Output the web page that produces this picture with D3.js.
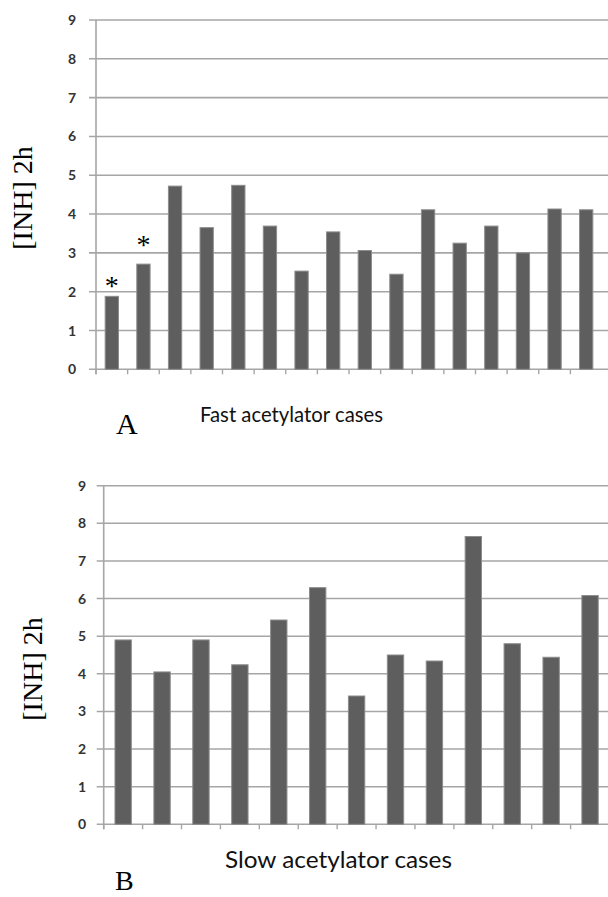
<!DOCTYPE html>
<html>
<head>
<meta charset="utf-8">
<script src="https://cdn.jsdelivr.net/npm/d3@7"></script>
<style>
  html, body { margin: 0; padding: 0; background: #fff; }
  svg { display: block; }
</style>
</head>
<body>
<script>
// ---------- data ----------
const fastCases = d3.range(1, 17).map(String);
const fastValues = [1.88, 2.71, 4.72, 3.65, 4.74, 3.69, 2.53, 3.54, 3.06, 2.45, 4.11, 3.25, 3.69, 3.0, 4.13, 4.11];
const fastMarks = [{ cat: "1", y: 2.25 }, { cat: "2", y: 3.32 }]; // asterisk annotations
const slowCases = d3.range(1, 14).map(String);
const slowValues = [4.9, 4.05, 4.9, 4.24, 5.43, 6.29, 3.41, 4.5, 4.34, 7.65, 4.8, 4.44, 6.08];
const yTicks = [0, 1, 2, 3, 4, 5, 6, 7, 8, 9];
const yLabel = "[INH] 2h";
const fastTitle = "Fast acetylator cases";
const slowTitle = "Slow acetylator cases";

const W = 608, H = 897;
const svg = d3.select("body").append("svg").attr("width", W).attr("height", H);

function panel(cfg) {
  const g = svg.append("g");
  const x = d3.scaleBand().domain(cfg.cats).range([cfg.x0, cfg.x1]).paddingInner(0.58).paddingOuter(0.29);
  const y = d3.scaleLinear().domain([0, 9]).range([cfg.y0, cfg.y9]);

  // gridlines + left ticks
  g.selectAll("line.grid").data(yTicks).join("line")
    .attr("x1", cfg.x0 - 7).attr("x2", W)
    .attr("y1", d => y(d)).attr("y2", d => y(d))
    .attr("stroke", "#a6a6a6").attr("stroke-width", 1.6);

  // y axis line
  g.append("line").attr("x1", cfg.x0).attr("x2", cfg.x0)
    .attr("y1", y(9)).attr("y2", y(0) + 5)
    .attr("stroke", "#a6a6a6").attr("stroke-width", 1.6);

  // category boundary ticks
  const bounds = cfg.cats.map((c, i) => cfg.x0 + i * x.step());
  g.selectAll("line.xt").data(bounds).join("line")
    .attr("x1", d => d).attr("x2", d => d)
    .attr("y1", y(0)).attr("y2", y(0) + 5)
    .attr("stroke", "#a6a6a6").attr("stroke-width", 1.4);

  // tick labels
  g.selectAll("text.yl").data(yTicks).join("text")
    .attr("x", cfg.labelX).attr("y", d => y(d))
    .attr("dy", "0.36em").attr("text-anchor", "end")
    .attr("font-family", "Lato, 'Open Sans', sans-serif")
    .attr("font-weight", "bold").attr("font-size", 14)
    .attr("fill", "#333")
    .text(d => d);

  // bars
  g.selectAll("rect.bar").data(cfg.cats.map((c, i) => ({ c, v: cfg.values[i] }))).join("rect")
    .attr("x", d => x(d.c)).attr("width", x.bandwidth())
    .attr("y", d => y(d.v)).attr("height", d => y(0) - y(d.v))
    .attr("fill", "#5e5e5e").attr("stroke", "#8c8c8c").attr("stroke-width", 1);

  // y label
  g.append("text")
    .attr("transform", `translate(${cfg.ylabX},${cfg.ylabY}) rotate(-90)`)
    .attr("text-anchor", "middle")
    .attr("font-family", "'Liberation Serif', 'Times New Roman', serif")
    .attr("font-size", 28).attr("fill", "#000")
    .text(yLabel);

  // x title
  g.append("text")
    .attr("x", cfg.titleX).attr("y", cfg.titleY)
    .attr("font-family", "Lato, 'Open Sans', sans-serif")
    .attr("font-size", cfg.titleSize).attr("fill", "#111")
    .attr("textLength", cfg.titleLen).attr("lengthAdjust", "spacingAndGlyphs")
    .text(cfg.title);

  // panel letter
  g.append("text")
    .attr("x", cfg.letterX).attr("y", cfg.letterY)
    .attr("font-family", "'Liberation Serif', 'Times New Roman', serif")
    .attr("font-size", cfg.letterSize).attr("fill", "#000")
    .text(cfg.letter);

  return { g, x, y };
}

const panelA = panel({
  cats: fastCases, values: fastValues,
  x0: 96, x1: 602, y0: 369.3, y9: 20, labelX: 76,
  ylabX: 32, ylabY: 198,
  title: fastTitle, titleX: 200, titleY: 421.7, titleSize: 21, titleLen: 183,
  letter: "A", letterX: 116, letterY: 434, letterSize: 30
});

const panelB = panel({
  cats: slowCases, values: slowValues,
  x0: 103.7, x1: 609.5, y0: 824.3, y9: 485.7, labelX: 86,
  ylabX: 42, ylabY: 669,
  title: slowTitle, titleX: 225, titleY: 868, titleSize: 23, titleLen: 227,
  letter: "B", letterX: 115, letterY: 890, letterSize: 28
});

// asterisks
panelA.g.selectAll("text.star").data(fastMarks).join("text")
  .attr("x", d => panelA.x(d.cat) + panelA.x.bandwidth() / 2)
  .attr("y", d => panelA.y(d.y))
  .attr("dy", "0.47em")
  .attr("text-anchor", "middle")
  .attr("font-family", "'Liberation Serif', 'Times New Roman', serif")
  .attr("font-size", 28).attr("fill", "#000")
  .text("*");
</script>
</body>
</html>
